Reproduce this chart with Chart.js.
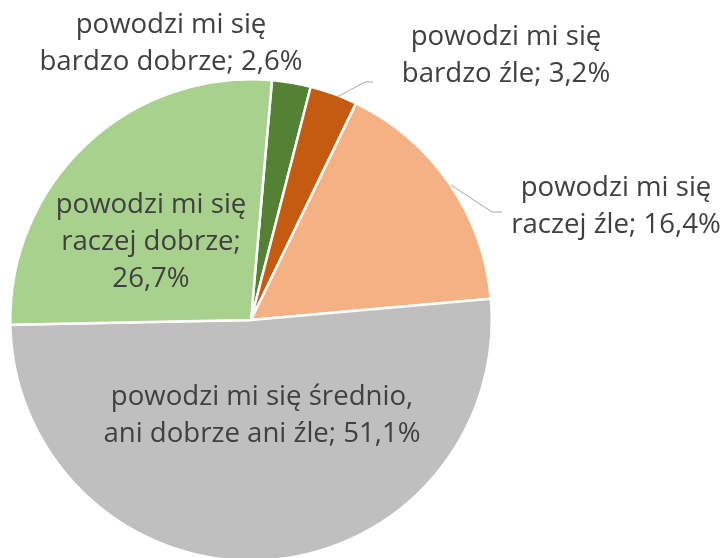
<!DOCTYPE html>
<html>
<head>
<meta charset="utf-8">
<script src="https://cdn.jsdelivr.net/npm/chart.js@4"></script>
<style>
  html, body { margin: 0; padding: 0; background: #fff; overflow: hidden; }
  #wrap { position: relative; width: 728px; height: 562px; }
</style>
</head>
<body>
<div id="wrap"><canvas id="pieChart"></canvas></div>
<script>
// dane
const categories = [
  "powodzi mi się bardzo dobrze",
  "powodzi mi się bardzo źle",
  "powodzi mi się raczej źle",
  "powodzi mi się średnio, ani dobrze ani źle",
  "powodzi mi się raczej dobrze"
];
const values = [2.6, 3.2, 16.4, 51.1, 26.7];
const labelLines = [
  ["powodzi mi się", "bardzo dobrze; 2,6%"],
  ["powodzi mi się", "bardzo źle; 3,2%"],
  ["powodzi mi się", "raczej źle; 16,4%"],
  ["powodzi mi się średnio,", "ani dobrze ani źle; 51,1%"],
  ["powodzi mi się", "raczej dobrze;", "26,7%"]
];
const colors = ["#548235", "#C55A11", "#F4B183", "#BFBFBF", "#A9D18E"];

// położenie etykiet (środek pierwszej linii) i linie odniesienia
const labelPos = [
  { x: 171, y: 25 },
  { x: 506, y: 37 },
  { x: 616, y: 188 },
  { x: 262, y: 397 },
  { x: 151, y: 205 }
];
const leaders = [
  null,
  [[337, 97], [365, 82], [373, 82]],
  [[451, 185], [492, 212], [502, 212]],
  null,
  null
];

const labelPlugin = {
  id: "pieLabels",
  afterDraw(chart) {
    const ctx = chart.ctx;
    ctx.save();
    ctx.font = "100px 'Open Sans'";
    const w = ctx.measureText("powodzi mi się").width;
    const size = 100 * 191 / w;
    ctx.font = size.toFixed(1) + "px 'Open Sans'";
    ctx.fillStyle = "#404040";
    ctx.textAlign = "center";
    ctx.textBaseline = "middle";
    labelLines.forEach((lines, i) => {
      lines.forEach((t, j) => {
        ctx.fillText(t, labelPos[i].x, labelPos[i].y + j * 37);
      });
    });
    ctx.strokeStyle = "#A6A6A6";
    ctx.lineWidth = 1;
    leaders.forEach(pts => {
      if (!pts) return;
      ctx.beginPath();
      ctx.moveTo(pts[0][0], pts[0][1]);
      for (let k = 1; k < pts.length; k++) ctx.lineTo(pts[k][0], pts[k][1]);
      ctx.stroke();
    });
    ctx.restore();
  }
};

const ctx = document.getElementById("pieChart").getContext("2d");
new Chart(ctx, {
  type: "pie",
  data: {
    labels: categories,
    datasets: [{
      data: values,
      backgroundColor: colors,
      borderColor: "#ffffff",
      borderWidth: 2.5
    }]
  },
  options: {
    responsive: true,
    maintainAspectRatio: false,
    animation: false,
    rotation: 5,
    layout: { padding: { top: 78, bottom: 0, left: 9, right: 235 } },
    plugins: {
      legend: { display: false },
      tooltip: { enabled: false }
    }
  },
  plugins: [labelPlugin]
});
</script>
</body>
</html>
